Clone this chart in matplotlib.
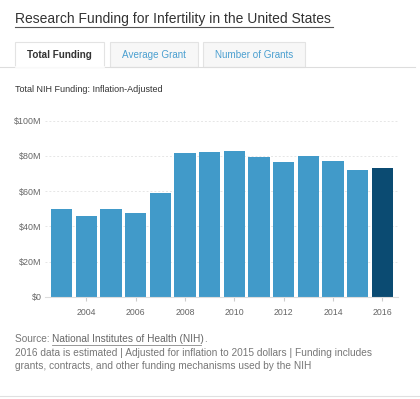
import matplotlib.pyplot as plt
from matplotlib.patches import Rectangle
from matplotlib.lines import Line2D

# data (millions of dollars)
years = [2003, 2004, 2005, 2006, 2007, 2008, 2009, 2010, 2011, 2012, 2013, 2014, 2015, 2016]
funding = [49.6, 45.9, 49.6, 47.7, 58.9, 81.8, 82.2, 82.6, 79.2, 76.4, 80.0, 77.0, 71.9, 73.0]
yticks = [0, 20, 40, 60, 80, 100]
ytick_labels = ['$0', '$20M', '$40M', '$60M', '$80M', '$100M']
xticks = [2004, 2006, 2008, 2010, 2012, 2014, 2016]
tabs = ['Total Funding', 'Average Grant', 'Number of Grants']

plt.rcParams['font.family'] = ['Liberation Sans', 'DejaVu Sans']

W, H = 420, 399
fig = plt.figure(figsize=(W / 100, H / 100), dpi=100)


def fx(px):
    return px / W


def fy(py):
    return 1 - py / H


# title
fig.text(fx(15), fy(19), 'Research Funding for Infertility in the United States',
         fontsize=10, color='#333333', va='center', ha='left')
fig.add_artist(Line2D([fx(15), fx(333)], [fy(27), fy(27)], color='#555555', lw=0.8))

# tabs
tab_boxes = [(15, 104), (110, 198), (203, 305)]
fig.add_artist(Line2D([0, fx(415)], [fy(67), fy(67)], color='#dddddd', lw=0.8))
for i, (name, (x0, x1)) in enumerate(zip(tabs, tab_boxes)):
    active = i == 0
    fig.add_artist(Rectangle((fx(x0), fy(67)), fx(x1 - x0), 25 / H,
                             facecolor='white' if active else '#f7f7f7',
                             edgecolor='#e3e3e3', lw=0.8))
    if active:
        fig.add_artist(Line2D([fx(x0 + 0.5), fx(x1 - 0.5)], [fy(67), fy(67)], color='white', lw=1.2))
    fig.text(fx((x0 + x1) / 2), fy(55), name, fontsize=7.1, ha='center', va='center',
             color='#333333' if active else '#4a9fd0', fontweight='bold' if active else 'normal')

fig.text(fx(15), fy(90), 'Total NIH Funding: Inflation-Adjusted', fontsize=6.5, color='#333333',
         ha='left', va='center')

# chart
ax = fig.add_axes([fx(45), fy(296.7), fx(398 - 45), (296.7 - 120.7) / H])
colors = ['#419ac9'] * (len(years) - 1) + ['#0b4b72']
ax.bar(years, funding, width=0.86, color=colors, zorder=2)
ax.set_xlim(2002.32, 2016.64)
ax.set_ylim(0, 100)
ax.set_yticks(yticks)
ax.set_yticklabels(ytick_labels)
ax.set_xticks(xticks)
ax.set_xticklabels([str(x) for x in xticks])
ax.grid(axis='y', color='#e6e6e6', linestyle=(0, (2, 2)), lw=0.7, zorder=0)
for s in ['top', 'right', 'left']:
    ax.spines[s].set_visible(False)
ax.spines['bottom'].set_color('#dddddd')
ax.spines['bottom'].set_linewidth(0.8)
ax.tick_params(axis='y', length=0, pad=2.5, labelsize=6.4, labelcolor='#666666')
ax.tick_params(axis='x', length=3, color='#cccccc', pad=5, labelsize=6.3, labelcolor='#666666')

# footer
fs = 7.25
fig.text(fx(15), fy(339), 'Source: ', fontsize=fs, color='#777777', ha='left', va='center')
fig.text(fx(51.7), fy(339), 'National Institutes of Health (NIH)', fontsize=fs, color='#666666',
         ha='left', va='center')
fig.add_artist(Line2D([fx(51.7), fx(201)], [fy(344.5), fy(344.5)], color='#888888', lw=0.6))
fig.text(fx(204), fy(339), '.', fontsize=fs, color='#777777', ha='left', va='center')
fig.text(fx(15), fy(353), '2016 data is estimated | Adjusted for inflation to 2015 dollars | Funding includes',
         fontsize=fs, color='#777777', ha='left', va='center')
fig.text(fx(15), fy(366), 'grants, contracts, and other funding mechanisms used by the NIH',
         fontsize=fs, color='#777777', ha='left', va='center')
fig.add_artist(Line2D([0, 1], [fy(396), fy(396)], color='#e0e0e0', lw=0.8))

fig.savefig('out.png', dpi=100)
